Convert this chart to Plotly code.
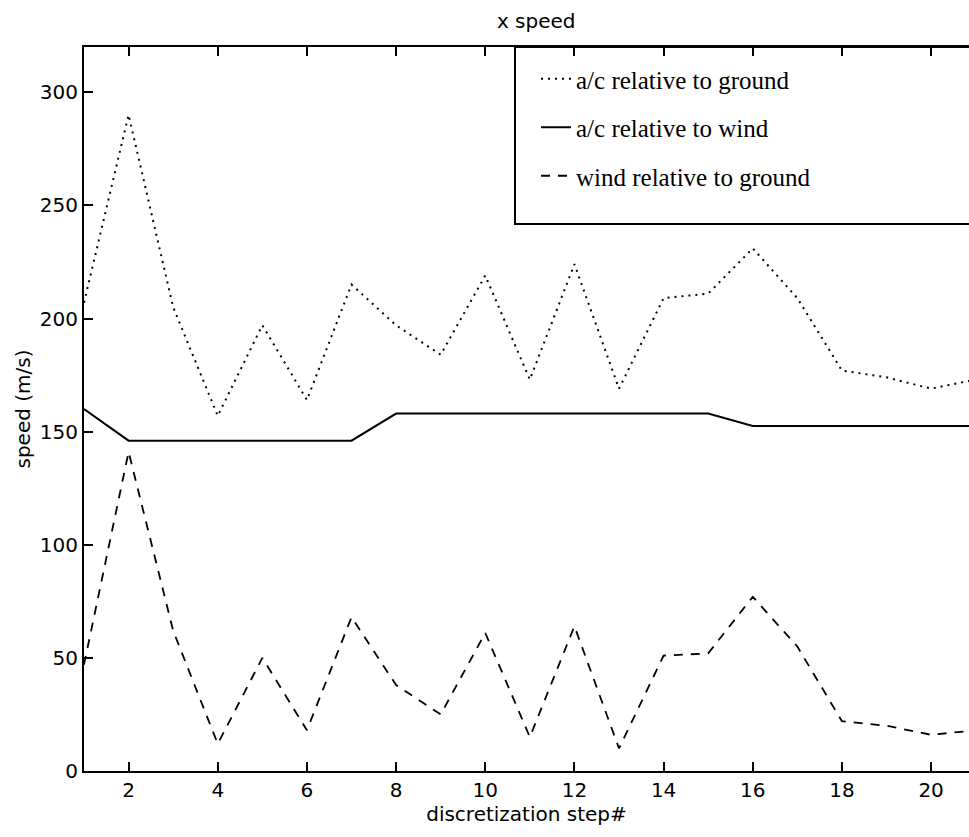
import plotly.graph_objects as go

steps = list(range(1, 22))
ac_ground = [207, 290, 205, 157, 197, 164, 215, 197, 184, 219, 173, 224, 169, 209, 211, 231, 209, 177, 174, 169, 173]
ac_wind = [160, 146, 146, 146, 146, 146, 146, 158, 158, 158, 158, 158, 158, 158, 158, 152.5, 152.5, 152.5, 152.5, 152.5, 152.5]
wind_ground = [47, 141, 62, 12, 50, 18, 68, 38, 25, 61, 15, 64, 10, 51, 52, 77, 55, 22, 20, 16, 18]

x_ticks = list(range(2, 21, 2))
y_ticks = list(range(0, 301, 50))

names = ["a/c relative to ground", "a/c relative to wind", "wind relative to ground"]

W, H = 969, 837
ML, MR, MT, MB = 84, 0, 47, 66

fig = go.Figure()
fig.add_trace(go.Scatter(x=steps, y=ac_ground, mode="lines", name=names[0], legendgroup="g1",
                         line=dict(color="black", width=2, dash="2px,5px")))
fig.add_trace(go.Scatter(x=steps, y=ac_wind, mode="lines", name=names[1], legendgroup="g2",
                         line=dict(color="black", width=2)))
fig.add_trace(go.Scatter(x=steps, y=wind_ground, mode="lines", name=names[2], legendgroup="g3",
                         line=dict(color="black", width=1.8, dash="9px,8px")))

tickfont = dict(family="DejaVu Sans", size=20, color="black")
fig.update_layout(
    width=W, height=H,
    margin=dict(l=ML, r=MR, t=MT, b=MB),
    paper_bgcolor="white", plot_bgcolor="white",
    title=dict(text="x speed", x=0.511, xref="paper", xanchor="center", y=1 - 21 / H, yanchor="middle",
               font=dict(family="DejaVu Sans", size=20, color="black")),
    xaxis=dict(range=[1, 20.85], tickvals=x_ticks, ticks="inside", ticklen=9, tickwidth=1.5,
               tickcolor="black", showline=True, linecolor="black", linewidth=2, mirror="ticks",
               showgrid=False, zeroline=False, tickfont=tickfont,
               title=dict(text="discretization step#", standoff=3,
                          font=dict(family="DejaVu Sans", size=20, color="black"))),
    yaxis=dict(range=[0, 320], tickvals=y_ticks, ticks="inside", ticklen=9, tickwidth=1.5,
               tickcolor="black", showline=True, linecolor="black", linewidth=2, mirror=False,
               showgrid=False, zeroline=False, tickfont=tickfont,
               title=dict(text="speed (m/s)", standoff=4,
                          font=dict(family="DejaVu Sans", size=20, color="black"))),
    legend=dict(x=(536 - ML) / (W - ML - MR), xanchor="left", y=1 - (56 - MT) / (H - MT - MB), yanchor="top",
                bgcolor="rgba(0,0,0,0)", borderwidth=0, tracegroupgap=13,
                font=dict(family="Liberation Serif", size=25, color="black")),
    showlegend=True,
)

# legend frame
fig.add_shape(type="rect", xref="paper", yref="paper",
              x0=(515 - ML) / (W - ML - MR), x1=1.02,
              y0=(771 - 224) / (H - MT - MB), y1=1,
              line=dict(color="black", width=2), fillcolor="rgba(0,0,0,0)", layer="above")

fig.write_html("out.html")
